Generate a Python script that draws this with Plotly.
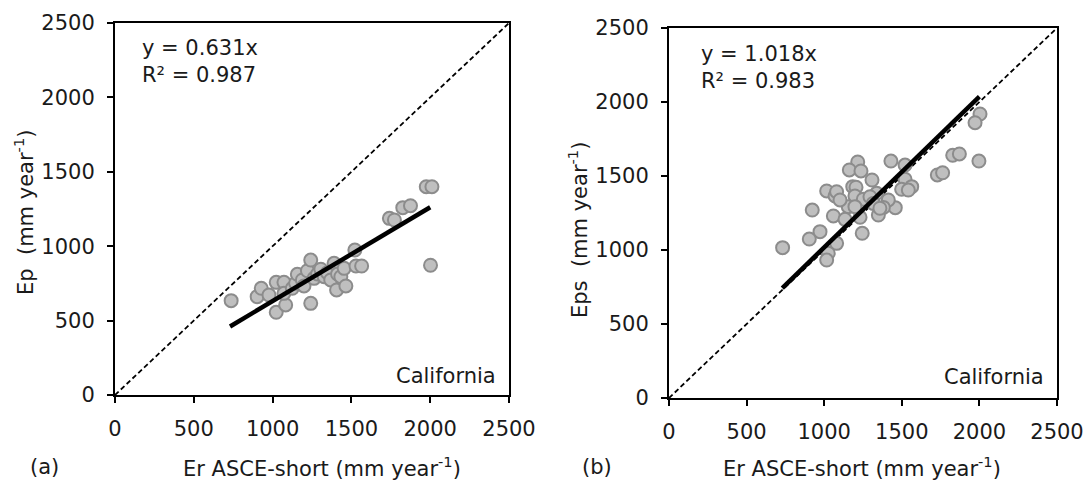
import plotly.graph_objects as go

# ---------------- data ----------------
er_a = [737, 902, 928, 977, 1023, 1083, 1023, 1072, 1072, 1125, 1146, 1157, 1189, 1199,
        1221, 1242, 1242, 1263, 1285, 1306, 1327, 1348, 1369, 1390, 1412, 1406, 1433,
        1454, 1465, 1522, 1529, 1565, 1741, 1773, 1826, 1875, 1975, 2011, 2002]
ep_a = [634, 661, 717, 672, 556, 605, 757, 757, 683, 717, 751, 811, 773, 733,
        835, 907, 616, 784, 813, 845, 795, 822, 773, 885, 813, 706, 795,
        851, 733, 974, 867, 867, 1187, 1176, 1259, 1272, 1400, 1400, 872]

er_b = [2004, 1972, 1997, 1828, 1871, 1729, 1763, 1430, 1521, 1521, 1499, 1564, 1542,
        1458, 1413, 1381, 1349, 1338, 1308, 1216, 1162, 1237, 1184, 1205, 1016, 1070,
        1080, 1198, 1155, 1252, 1295, 1059, 1134, 923, 973, 904, 1080, 1245, 1231, 732,
        1026, 1016, 1198, 1316, 1359, 1102]
eps_b = [1919, 1860, 1601, 1640, 1649, 1507, 1522, 1601, 1574, 1478, 1410, 1428, 1405,
         1286, 1338, 1288, 1236, 1383, 1473, 1595, 1541, 1534, 1428, 1424, 1399, 1365,
         1394, 1365, 1293, 1343, 1360, 1230, 1207, 1270, 1124, 1074, 1045, 1113, 1221, 1016,
         978, 932, 1293, 1315, 1282, 1338]

slope_a = 0.631
slope_b = 1.018
trend_x = [730, 2000]
axis_range = [0, 2500]
tick_vals = [0, 500, 1000, 1500, 2000, 2500]

eq_a = ["y = 0.631x", "R² = 0.987"]
eq_b = ["y = 1.018x", "R² = 0.983"]
region = "California"
xtitle = "Er ASCE-short (mm year<sup>-1</sup>)"
ytitle_a = "Ep  (mm year<sup>-1</sup>)"
ytitle_b = "Eps  (mm year<sup>-1</sup>)"

# ---------------- figure ----------------
W, H = 1088, 484
FONT = "DejaVu Sans"
FS = 21


def px(x):
    return x / W


def py(y):
    return 1 - y / H


fig = go.Figure()

marker = dict(size=13, color="#BFBFBF", line=dict(color="#8C8C8C", width=2))

for (xs, ys, slope, xa, ya) in [(er_a, ep_a, slope_a, "x", "y"),
                                  (er_b, eps_b, slope_b, "x2", "y2")]:
    fig.add_trace(go.Scatter(x=axis_range, y=axis_range, mode="lines",
                             line=dict(color="black", width=1.8, dash="5px,3px"),
                             xaxis=xa, yaxis=ya, showlegend=False, hoverinfo="skip"))
    fig.add_trace(go.Scatter(x=xs, y=ys, mode="markers", marker=marker,
                             xaxis=xa, yaxis=ya, showlegend=False))
    fig.add_trace(go.Scatter(x=trend_x, y=[slope * v for v in trend_x], mode="lines",
                             line=dict(color="black", width=4.5),
                             xaxis=xa, yaxis=ya, showlegend=False))

ax_common = dict(range=axis_range, tickvals=tick_vals, ticks="outside", ticklen=6,
                 tickwidth=1.5, tickcolor="black", showline=True, linecolor="black",
                 linewidth=2, mirror=True, showgrid=False, zeroline=False,
                 tickfont=dict(family=FONT, size=FS, color="#1a1a1a"),
                 ticklabelstandoff=8, fixedrange=True, automargin=False)

fig.update_layout(
    template="none",
    width=W, height=H,
    margin=dict(l=0, r=0, t=0, b=0, pad=0),
    paper_bgcolor="white", plot_bgcolor="white",
    xaxis=dict(domain=[px(115), px(509)], anchor="y", **ax_common),
    yaxis=dict(domain=[py(395), py(23)], anchor="x", **ax_common),
    xaxis2=dict(domain=[px(669), px(1057)], anchor="y2", **ax_common),
    yaxis2=dict(domain=[py(398), py(28)], anchor="x2", **ax_common),
)

tf = dict(family=FONT, size=FS, color="#1a1a1a")
ann = []
# equations
ann.append(dict(x=px(140), y=py(34), text=eq_a[0] + "<br>" + eq_a[1], xanchor="left",
                yanchor="top", align="left"))
ann.append(dict(x=px(699), y=py(40), text=eq_b[0] + "<br>" + eq_b[1], xanchor="left",
                yanchor="top", align="left"))
# region labels
ann.append(dict(x=px(498), y=py(376), text=region, xanchor="right", yanchor="middle"))
ann.append(dict(x=px(1046), y=py(377), text=region, xanchor="right", yanchor="middle"))
# x titles
ann.append(dict(x=px(322), y=py(467), text=xtitle, xanchor="center", yanchor="middle"))
ann.append(dict(x=px(862), y=py(467), text=xtitle, xanchor="center", yanchor="middle"))
# y titles
ann.append(dict(x=px(24), y=py(213), text=ytitle_a, textangle=-90, xanchor="center",
                yanchor="middle"))
ann.append(dict(x=px(578), y=py(230), text=ytitle_b, textangle=-90, xanchor="center",
                yanchor="middle"))
# panel letters
ann.append(dict(x=px(44), y=py(467), text="(a)", xanchor="center", yanchor="middle"))
ann.append(dict(x=px(597), y=py(467), text="(b)", xanchor="center", yanchor="middle"))

for a in ann:
    a.update(xref="paper", yref="paper", showarrow=False, font=tf)
fig.update_layout(annotations=ann)

fig.write_html("out.html")
